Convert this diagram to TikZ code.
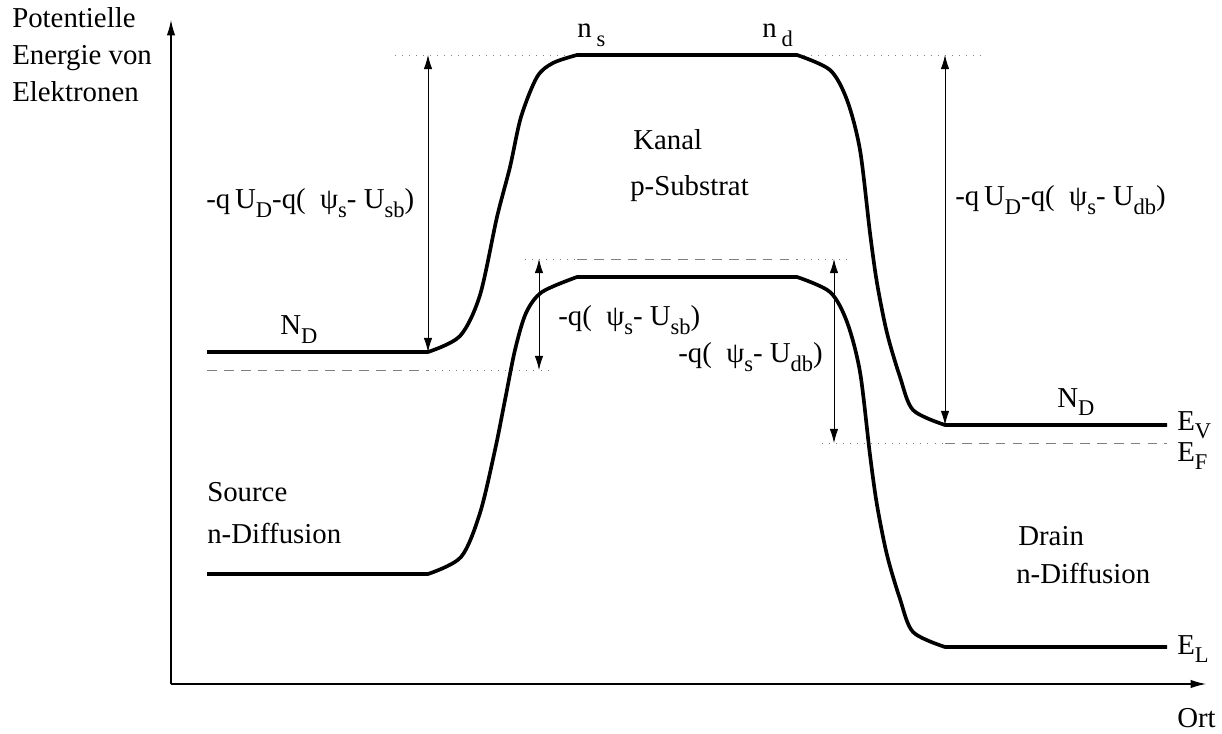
\documentclass[tikz,border=0pt]{standalone}
\usepackage{fontspec}
\setmainfont{Liberation Serif}
\usetikzlibrary{arrows.meta}

\newcommand{\lowidx}[1]{\raisebox{-0.28em}{\fontsize{16}{16}\selectfont #1}}

\begin{document}
\begin{tikzpicture}[
    x=0.025cm, y=-0.025cm,
    band/.style={line width=2.6pt, line join=round},
    level/.style={line width=0.5pt, gray, dash pattern=on 7pt off 5pt},
    aux/.style={line width=0.6pt, gray, dash pattern=on 0.7pt off 4.3pt},
    dim/.style={line width=0.6pt, {Latex[length=10pt, width=6pt]}-{Latex[length=10pt, width=6pt]}},
    axis/.style={line width=0.8pt, -{Latex[length=11pt, width=6pt]}},
    lbl/.style={font=\fontsize{20.5}{25}\selectfont, inner sep=0pt, anchor=base west},
]
    \useasboundingbox (0,0) rectangle (1222,734);

    % Axes
    \coordinate (origin) at (171,684);
    \coordinate (y_tip) at (171,20);
    \coordinate (x_tip) at (1206,684);
    \draw[axis] (origin) -- (y_tip);
    \draw[axis] (origin) -- (x_tip);

    % Axis labels
    \node[lbl] (lbl_pot) at (12,28) {Potentielle};
    \node[lbl] (lbl_energie) at (12,65) {Energie von};
    \node[lbl] (lbl_elektronen) at (12,102) {Elektronen};
    \node[lbl] (lbl_ort) at (1177,727) {Ort};

    % Reference levels
    \draw[aux] (395,55) -- (577,55);
    \draw[aux] (797,55) -- (980,55);
    \draw[aux] (525,259) -- (577,259);
    \draw[level] (577,259) -- (797,259);
    \draw[aux] (797,259) -- (850,259);
    \draw[level] (207,370) -- (428,370);
    \draw[aux] (428,370) -- (552,370);
    \draw[aux] (822,443) -- (945,443);
    \draw[level] (945,443) -- (1167,443);

    % Upper band
    \draw[band] (207,352) -- plot[smooth, tension=0.5] coordinates {(428,352) (460,336) (480,295) (497,217) (510,167) (521,117) (537,77) (553,63) (577,55)}
        -- plot[smooth, tension=0.5] coordinates {(797,55) (830,70) (847,100) (860,150) (870,233) (877,283) (887,333) (900,377) (913,410) (945,425)}
        -- (1167,425);

    % Lower band
    \draw[band] (207,574) -- plot[smooth, tension=0.5] coordinates {(428,574) (461,557) (480,513) (495,450) (505,400) (515,350) (526,313) (542,292) (577,277)}
        -- plot[smooth, tension=0.5] coordinates {(797,277) (830,292) (847,322) (860,372) (870,455) (877,505) (887,555) (900,599) (913,632) (945,647)}
        -- (1167,647);

    % Potential differences
    \coordinate (s_top) at (428,55);
    \coordinate (s_bot) at (428,352);
    \coordinate (d_top) at (945,55);
    \coordinate (d_bot) at (945,425);
    \coordinate (ss_top) at (539,259);
    \coordinate (ss_bot) at (539,370);
    \coordinate (ds_top) at (834,259);
    \coordinate (ds_bot) at (834,443);
    \draw[dim] (s_top) -- (s_bot);
    \draw[dim] (d_top) -- (d_bot);
    \draw[dim] (ss_top) -- (ss_bot);
    \draw[dim] (ds_top) -- (ds_bot);

    % Labels in the channel
    \node[lbl] (lbl_ns) at (577,38) {n\,\lowidx{s}};
    \node[lbl] (lbl_nd) at (762,38) {n\,\lowidx{d}};
    \node[lbl] (lbl_kanal) at (633,150) {Kanal};
    \node[lbl] (lbl_substrat) at (630,196) {p-Substrat};
    \node[lbl] (lbl_usb) at (558,326) {-q(\ \ ψ\lowidx{s}- U\lowidx{sb})};
    \node[lbl] (lbl_udb) at (678,363) {-q(\ \ ψ\lowidx{s}- U\lowidx{db})};

    % Source side
    \node[lbl] (lbl_src_pot) at (206,209) {-q\,U\lowidx{D}-q(\ \ ψ\lowidx{s}- U\lowidx{sb})};
    \node[lbl] (lbl_src_nd) at (280,335) {N\lowidx{D}};
    \node[lbl] (lbl_source) at (207,501) {Source};
    \node[lbl] (lbl_src_diff) at (207,543) {n-Diffusion};

    % Drain side
    \node[lbl] (lbl_drn_pot) at (955,206) {-q\,U\lowidx{D}-q(\ \ ψ\lowidx{s}- U\lowidx{db})};
    \node[lbl] (lbl_drn_nd) at (1057,407) {N\lowidx{D}};
    \node[lbl] (lbl_drain) at (1018,545) {Drain};
    \node[lbl] (lbl_drn_diff) at (1016,583) {n-Diffusion};

    % Band labels
    \node[lbl] (lbl_ev) at (1177,430) {E\lowidx{V}};
    \node[lbl] (lbl_ef) at (1177,461) {E\lowidx{F}};
    \node[lbl] (lbl_el) at (1177,654) {E\lowidx{L}};

\end{tikzpicture}
\end{document}
